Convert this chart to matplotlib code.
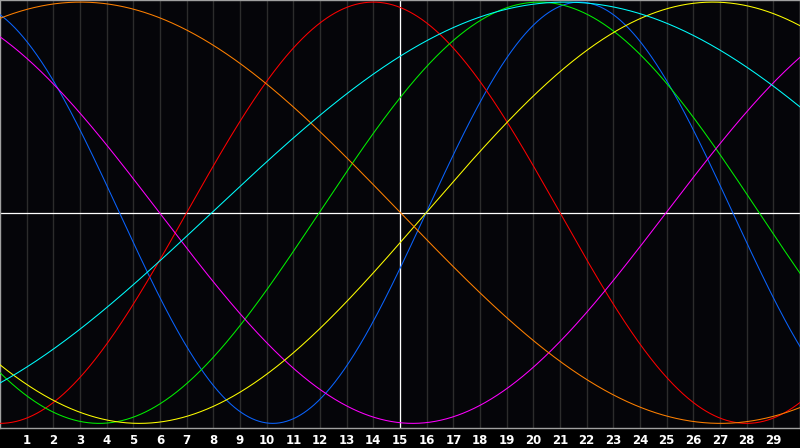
import matplotlib
matplotlib.use('Agg')
import matplotlib.pyplot as plt
import numpy as np

# biorhythm cycles
periods = [23, 28, 33, 38, 43, 48, 53]                 # cycle length in days
rise_days = [15.98, 7.0, 11.97, 24.98, 15.98, -8.98, 7.94]   # day where the cycle crosses zero going up
colors = ['#0a64ff', '#ff0000', '#00f000', '#ff00ff', '#ffff00', '#ff8000', '#00ffff']
day_labels = [str(d) for d in range(1, 30)]

fig = plt.figure(figsize=(8, 4.48), dpi=100, facecolor='black')
ax = fig.add_axes([0, 20 / 448, 1, 428 / 448])
ax.set_facecolor('#050509')

# day grid
for d in range(1, 30):
    ax.axvline(d, color='#2c2c2c', lw=1, zorder=1)

# crosshair
ax.axhline(0, color='white', lw=0.9, zorder=2)
ax.axvline(15, color='white', lw=0.9, zorder=2)

days = np.linspace(-0.5, 30.5, 1200)
for p, r, c in zip(periods, rise_days, colors):
    ax.plot(days, np.sin(2 * np.pi * (days - r) / p), color=c, lw=0.75, zorder=3)

ax.set_xlim(0, 30)
ax.set_ylim(-1.022, 1.01)
ax.set_yticks([])
ax.set_xticks(range(1, 30))
ax.set_xticklabels(day_labels, fontfamily='DejaVu Sans', fontweight='bold')
ax.tick_params(axis='x', length=0, pad=4, labelsize=8.5, labelcolor='white')

for s in ax.spines.values():
    s.set_color('#a0a0a0')
    s.set_linewidth(1)

plt.savefig('out.png', dpi=100, facecolor='black')
